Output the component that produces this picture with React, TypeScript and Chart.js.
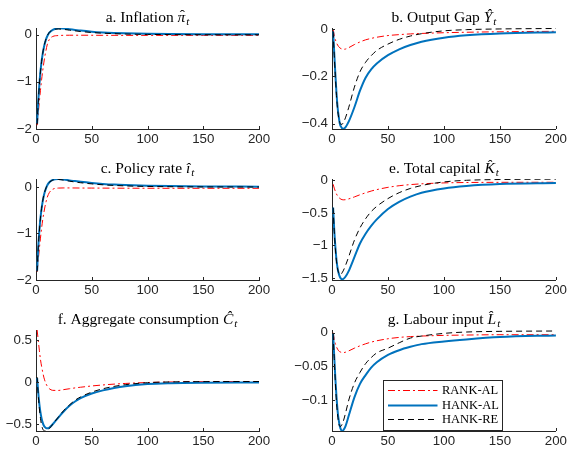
import React, { useEffect, useRef } from "react";
import { Chart, registerables } from "chart.js";
Chart.register(...registerables);

// ---------- data ----------
const T = [1, 2, 3, 4, 5, 6, 7, 8, 9, 10, 12, 15, 20, 25, 30, 35, 40, 50, 60, 70, 80, 100, 120, 150, 200];
const seriesNames = ["RANK-AL", "HANK-AL", "HANK-RE"];
const xTicks = [0, 50, 100, 150, 200];

// a. Inflation
const inflRANK = [-1.92, -1.68, -1.42, -1.18, -0.96, -0.77, -0.6, -0.45, -0.33, -0.22, -0.1, -0.04, -0.02, -0.015, -0.013, -0.013, -0.013, -0.014, -0.015, -0.015, -0.016, -0.016, -0.016, -0.016, -0.016];
const inflHANK = [-1.88, -1.42, -1.06, -0.78, -0.57, -0.41, -0.28, -0.18, -0.1, -0.04, 0.04, 0.1, 0.135, 0.13, 0.115, 0.1, 0.085, 0.062, 0.046, 0.035, 0.027, 0.018, 0.013, 0.009, 0.006];
const inflRE = [-1.9, -1.44, -1.07, -0.79, -0.57, -0.4, -0.27, -0.17, -0.09, -0.03, 0.05, 0.1, 0.12, 0.11, 0.095, 0.08, 0.065, 0.045, 0.03, 0.02, 0.012, 0.004, 0.0, -0.003, -0.004];
const inflYTicks = [-2, -1, 0];

// b. Output gap
const gapRANK = [0.0, -0.025, -0.044, -0.057, -0.067, -0.074, -0.079, -0.082, -0.084, -0.085, -0.084, -0.078, -0.065, -0.054, -0.045, -0.039, -0.034, -0.027, -0.023, -0.02, -0.018, -0.015, -0.013, -0.011, -0.009];
const gapHANK = [-0.01, -0.1, -0.19, -0.27, -0.33, -0.37, -0.4, -0.412, -0.419, -0.421, -0.415, -0.39, -0.33, -0.26, -0.205, -0.17, -0.145, -0.11, -0.085, -0.067, -0.053, -0.036, -0.026, -0.018, -0.013];
const gapRE = [-0.01, -0.11, -0.2, -0.28, -0.34, -0.375, -0.395, -0.402, -0.402, -0.396, -0.375, -0.33, -0.245, -0.18, -0.14, -0.112, -0.09, -0.063, -0.043, -0.029, -0.019, -0.007, -0.002, 0.001, 0.003];
const gapYTicks = [-0.4, -0.2, 0];

// c. Policy rate
const rateRANK = [-1.82, -1.58, -1.33, -1.1, -0.89, -0.71, -0.56, -0.43, -0.32, -0.23, -0.12, -0.05, -0.025, -0.022, -0.022, -0.023, -0.024, -0.025, -0.026, -0.027, -0.028, -0.029, -0.03, -0.03, -0.03];
const rateHANK = [-1.8, -1.3, -0.94, -0.67, -0.47, -0.31, -0.19, -0.1, -0.03, 0.03, 0.1, 0.15, 0.17, 0.16, 0.14, 0.125, 0.11, 0.085, 0.065, 0.05, 0.04, 0.027, 0.018, 0.01, 0.005];
const rateRE = [-1.82, -1.31, -0.95, -0.67, -0.46, -0.3, -0.18, -0.09, -0.02, 0.04, 0.1, 0.145, 0.16, 0.145, 0.125, 0.105, 0.09, 0.065, 0.045, 0.032, 0.022, 0.01, 0.004, 0.0, -0.002];
const rateYTicks = [-2, -1, 0];

// e. Total capital
const capRANK = [-0.06, -0.12, -0.17, -0.21, -0.24, -0.262, -0.278, -0.29, -0.297, -0.3, -0.298, -0.285, -0.255, -0.222, -0.192, -0.165, -0.143, -0.108, -0.083, -0.066, -0.054, -0.04, -0.034, -0.031, -0.03];
const capHANK = [-0.42, -0.76, -1.02, -1.22, -1.35, -1.43, -1.48, -1.51, -1.52, -1.515, -1.48, -1.39, -1.18, -0.97, -0.82, -0.7, -0.6, -0.44, -0.33, -0.25, -0.19, -0.125, -0.088, -0.058, -0.042];
const capRE = [-0.42, -0.78, -1.05, -1.24, -1.36, -1.42, -1.45, -1.445, -1.42, -1.39, -1.31, -1.17, -0.92, -0.73, -0.59, -0.48, -0.4, -0.28, -0.19, -0.125, -0.08, -0.025, 0.0, 0.012, 0.018];
const capYTicks = [-1.5, -1, -0.5, 0];

// f. Aggregate consumption
const consRANK = [0.62, 0.5, 0.38, 0.27, 0.19, 0.12, 0.06, 0.015, -0.02, -0.045, -0.078, -0.097, -0.098, -0.088, -0.078, -0.068, -0.06, -0.045, -0.033, -0.023, -0.015, -0.004, 0.002, 0.006, 0.008];
const consHANK = [0.05, -0.12, -0.26, -0.36, -0.43, -0.48, -0.515, -0.535, -0.545, -0.548, -0.54, -0.5, -0.42, -0.345, -0.28, -0.23, -0.19, -0.135, -0.097, -0.068, -0.047, -0.023, -0.013, -0.007, -0.004];
const consRE = [0.06, -0.15, -0.31, -0.43, -0.51, -0.555, -0.575, -0.58, -0.578, -0.57, -0.55, -0.5, -0.415, -0.335, -0.27, -0.215, -0.175, -0.118, -0.078, -0.05, -0.03, -0.006, 0.003, 0.007, 0.008];
const consYTicks = [-0.5, 0, 0.5];

// g. Labour input
const labRANK = [0.0, -0.009, -0.016, -0.021, -0.0245, -0.027, -0.0283, -0.029, -0.0295, -0.0296, -0.029, -0.027, -0.023, -0.0195, -0.0165, -0.014, -0.012, -0.009, -0.007, -0.0058, -0.005, -0.004, -0.0035, -0.003, -0.003];
const labHANK = [-0.002, -0.035, -0.068, -0.095, -0.116, -0.13, -0.139, -0.144, -0.146, -0.145, -0.139, -0.123, -0.096, -0.076, -0.063, -0.052, -0.044, -0.033, -0.026, -0.021, -0.017, -0.013, -0.01, -0.0065, -0.004];
const labRE = [-0.002, -0.038, -0.074, -0.103, -0.122, -0.134, -0.139, -0.139, -0.136, -0.132, -0.12, -0.1, -0.075, -0.059, -0.046, -0.037, -0.03, -0.023, -0.015, -0.008, -0.005, -0.001, 0.001, 0.002, 0.0025];
const labYTicks = [-0.1, -0.05, 0];

// ---------- styling ----------
const AX = "#262626";
const TICK_FONT = { family: '"Liberation Sans", Arial, sans-serif', size: 13.3 };
const SERIF = '"Liberation Serif", "Times New Roman", serif';

type PanelCfg = {
  title: string; sym: string; hat: boolean; sub: string;
  red: number[]; blue: number[]; black: number[];
  yTicks: number[]; yMin: number; yMax: number;
  col: number; row: number; legend?: boolean;
};

const panels: PanelCfg[] = [
  { title: "a. Inflation ", sym: "π", hat: true, sub: "t", red: inflRANK, blue: inflHANK, black: inflRE, yTicks: inflYTicks, yMin: -2, yMax: 0.14, col: 0, row: 0 },
  { title: "b. Output Gap ", sym: "Ŷ", hat: false, sub: "t", red: gapRANK, blue: gapHANK, black: gapRE, yTicks: gapYTicks, yMin: -0.422, yMax: 0.005, col: 1, row: 0 },
  { title: "c. Policy rate ", sym: "î", hat: false, sub: "t", red: rateRANK, blue: rateHANK, black: rateRE, yTicks: rateYTicks, yMin: -2, yMax: 0.17, col: 0, row: 1 },
  { title: "e. Total capital ", sym: "K\u0302", hat: false, sub: "t", red: capRANK, blue: capHANK, black: capRE, yTicks: capYTicks, yMin: -1.53, yMax: 0.02, col: 1, row: 1 },
  { title: "f. Aggregate consumption ", sym: "Ĉ", hat: false, sub: "t", red: consRANK, blue: consHANK, black: consRE, yTicks: consYTicks, yMin: -0.58, yMax: 0.62, col: 0, row: 2 },
  { title: "g. Labour input ", sym: "L\u0302", hat: false, sub: "t", red: labRANK, blue: labHANK, black: labRE, yTicks: labYTicks, yMin: -0.146, yMax: 0.004, col: 1, row: 2, legend: true },
];

const fmt = (v: number) => (v < 0 ? "\u2212" : "") + String(Math.abs(v));
const pts = (ys: number[]) => T.map((t, i) => ({ x: t, y: ys[i] }));

const COLORS = { red: "#FF0000", blue: "#0072BD", black: "#000000" };
const DASH = { red: [7, 3, 2, 3], blue: [] as number[], black: [6, 4] };
const WIDTH = { red: 1, blue: 2, black: 1 };

function decorPlugin(cfg: PanelCfg) {
  return {
    id: "decor",
    afterDraw(chart: any) {
      const ctx: CanvasRenderingContext2D = chart.ctx;
      const ca = chart.chartArea;
      const xs = chart.scales.x;
      const ys = chart.scales.y;
      ctx.save();
      // inward ticks
      ctx.strokeStyle = AX;
      ctx.lineWidth = 1;
      ctx.beginPath();
      xTicks.forEach((v) => {
        const px = Math.round(xs.getPixelForValue(v)) + 0.5;
        ctx.moveTo(px, ca.bottom);
        ctx.lineTo(px, ca.bottom - 3);
      });
      cfg.yTicks.forEach((v) => {
        const py = Math.round(ys.getPixelForValue(v)) + 0.5;
        ctx.moveTo(ca.left, py);
        ctx.lineTo(ca.left + 3, py);
      });
      ctx.stroke();
      // title
      const fMain = `15.5px ${SERIF}`;
      const fIt = `italic 15.5px ${SERIF}`;
      const fSub = `italic 11px ${SERIF}`;
      ctx.font = fMain;
      const w1 = ctx.measureText(cfg.title).width;
      ctx.font = fIt;
      const w2 = ctx.measureText(cfg.sym).width;
      ctx.font = fSub;
      const w3 = ctx.measureText(cfg.sub).width;
      const total = w1 + w2 + 1 + w3;
      let x = (ca.left + ca.right) / 2 - total / 2;
      const y = ca.top - 6;
      ctx.fillStyle = "#000";
      ctx.textAlign = "left";
      ctx.textBaseline = "alphabetic";
      ctx.font = fMain;
      ctx.fillText(cfg.title, x, y);
      x += w1;
      ctx.font = fIt;
      ctx.fillText(cfg.sym, x, y);
      if (cfg.hat) {
        ctx.font = `15.5px ${SERIF}`;
        ctx.textAlign = "center";
        ctx.fillText("\u02C6", x + w2 / 2 + 1, y - 2);
        ctx.textAlign = "left";
      }
      x += w2 + 1;
      ctx.font = fSub;
      ctx.fillText(cfg.sub, x, y + 3);
      // legend
      if (cfg.legend) {
        const bw = 119, bh = 50;
        const bx = Math.round(ca.right - 54 - bw) + 0.5;
        const by = Math.round(ca.bottom - 1 - bh) + 0.5;
        ctx.fillStyle = "#fff";
        ctx.fillRect(bx, by, bw, bh);
        ctx.strokeStyle = AX;
        ctx.lineWidth = 1;
        ctx.setLineDash([]);
        ctx.strokeRect(bx, by, bw, bh);
        const keys: ("red" | "blue" | "black")[] = ["red", "blue", "black"];
        const rowsY = [9.5, 24, 38.5];
        keys.forEach((k, i) => {
          const ly = Math.round(by + rowsY[i]) + 0.5;
          ctx.beginPath();
          ctx.strokeStyle = COLORS[k];
          ctx.lineWidth = WIDTH[k];
          ctx.setLineDash(DASH[k]);
          ctx.moveTo(bx + 4.5, ly);
          ctx.lineTo(bx + 54, ly);
          ctx.stroke();
          ctx.setLineDash([]);
          ctx.fillStyle = "#000";
          ctx.font = `12.5px ${SERIF}`;
          ctx.textBaseline = "middle";
          ctx.fillText(seriesNames[i], bx + 58.5, ly + 0.5);
        });
      }
      ctx.restore();
    },
  };
}

function Panel({ cfg }: { cfg: PanelCfg }) {
  const ref = useRef<HTMLCanvasElement>(null);
  const w = cfg.col === 0 ? 285 : 284;
  const left = cfg.col === 0 ? 0 : 285;
  const top = cfg.row * 150;
  const yw = cfg.col === 0 ? 36 : 47;
  const padRight = cfg.col === 0 ? 26 : 13;
  const padTop = 28 + cfg.row;
  const padBottom = 3 - cfg.row;

  useEffect(() => {
    const chart = new Chart(ref.current as HTMLCanvasElement, {
      type: "line",
      data: {
        datasets: [
          { label: seriesNames[2], data: pts(cfg.black), borderColor: COLORS.black, borderWidth: WIDTH.black, borderDash: DASH.black, order: 0 },
          { label: seriesNames[1], data: pts(cfg.blue), borderColor: COLORS.blue, borderWidth: WIDTH.blue, order: 1 },
          { label: seriesNames[0], data: pts(cfg.red), borderColor: COLORS.red, borderWidth: WIDTH.red, borderDash: DASH.red, order: 2 },
        ],
      },
      options: {
        animation: false,
        responsive: false,
        events: [],
        layout: { padding: { left: 0, right: padRight, top: padTop, bottom: padBottom } },
        plugins: { legend: { display: false }, tooltip: { enabled: false }, title: { display: false } },
        elements: {
          point: { radius: 0 },
          line: { cubicInterpolationMode: "monotone", fill: false },
        },
        scales: {
          x: {
            type: "linear",
            min: 0,
            max: 200,
            grid: { display: false, drawTicks: false },
            border: { display: true, color: AX, width: 1 },
            ticks: { font: TICK_FONT, color: AX, padding: 2, maxRotation: 0, autoSkip: false, callback: (v: any) => fmt(Number(v)) },
            afterBuildTicks: (s: any) => { s.ticks = xTicks.map((v) => ({ value: v })); },
            afterFit: (s: any) => { s.height = 18; },
          },
          y: {
            type: "linear",
            min: cfg.yMin,
            max: cfg.yMax,
            grid: { display: false, drawTicks: false },
            border: { display: true, color: AX, width: 1 },
            ticks: { font: TICK_FONT, color: AX, padding: 4, autoSkip: false, callback: (v: any) => fmt(Number(v)) },
            afterBuildTicks: (s: any) => { s.ticks = cfg.yTicks.map((v) => ({ value: v })); },
            afterFit: (s: any) => { s.width = yw; },
          },
        },
      } as any,
      plugins: [decorPlugin(cfg)],
    });
    return () => chart.destroy();
  }, []);

  return (
    <canvas
      ref={ref}
      width={w}
      height={150}
      style={{ position: "absolute", left, top, width: w, height: 150 }}
    />
  );
}

export default function App() {
  return (
    <div style={{ position: "fixed", left: 0, top: 0, width: 569, height: 450, background: "#fff", overflow: "hidden" }}>
      {panels.map((p, i) => (
        <Panel key={i} cfg={p} />
      ))}
    </div>
  );
}
